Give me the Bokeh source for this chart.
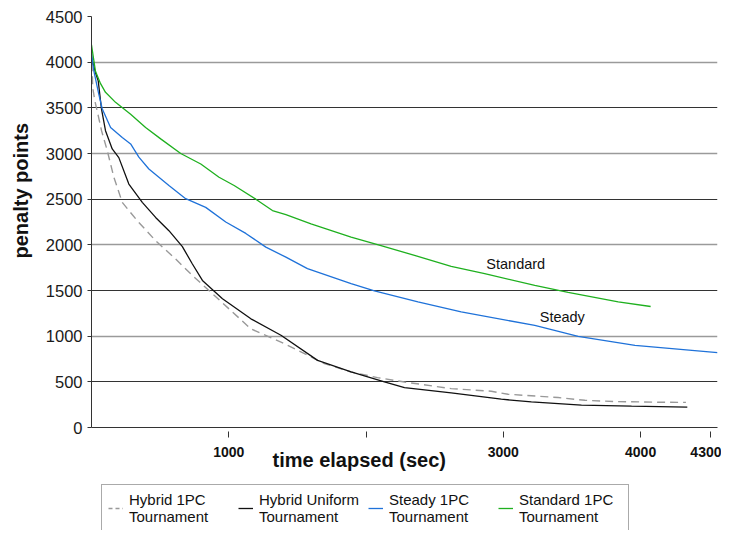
from bokeh.plotting import figure
from bokeh.models import FixedTicker, Grid, Label, Legend, LegendItem, Range1d, Title
from bokeh.layouts import column
from bokeh.embed import file_html
from bokeh.resources import INLINE

FONT = "Liberation Sans"

# ---- data (time elapsed in sec, penalty points) ----
standard_t = [0, 29, 66, 102, 175, 285, 394, 504, 650, 796, 929, 1039, 1197, 1318, 1416,
              1599, 1891, 2109, 2353, 2620, 2864, 3229, 3472, 3837, 4073]
standard_v = [4190, 3900, 3765, 3670, 3560, 3430, 3285, 3160, 3000, 2885, 2740, 2650, 2500,
              2375, 2330, 2230, 2085, 1990, 1885, 1765, 1685, 1555, 1480, 1375, 1325]

steady_t = [0, 17, 53, 78, 139, 224, 285, 345, 418, 564, 686, 832, 978, 1124, 1270, 1416,
            1573, 1891, 2061, 2378, 2693, 3229, 3545, 3959, 4560]
steady_v = [4100, 3905, 3650, 3490, 3285, 3175, 3105, 2960, 2830, 2650, 2505, 2410, 2250,
            2125, 1975, 1865, 1740, 1575, 1495, 1375, 1265, 1118, 998, 900, 820]

uniform_t = [0, 29, 49, 73, 102, 151, 199, 272, 370, 467, 564, 662, 735, 808, 954, 1161,
             1380, 1647, 1891, 2134, 2280, 2620, 2985, 3204, 3569, 3934, 4340]
uniform_v = [4050, 3885, 3795, 3485, 3250, 3050, 2955, 2665, 2465, 2300, 2155, 1980, 1790,
             1610, 1410, 1190, 1010, 735, 610, 500, 437, 378, 310, 280, 245, 233, 222]

onepc_t = [0, 9, 24, 49, 73, 115, 163, 224, 333, 467, 613, 735, 881, 1161, 1404, 1696,
           1891, 2083, 2280, 2620, 2912, 3034, 3399, 3594, 3812, 4177, 4330]
onepc_v = [4130, 3720, 3580, 3415, 3250, 3030, 2740, 2465, 2265, 2045, 1845, 1665, 1465,
           1080, 918, 700, 608, 546, 498, 426, 397, 364, 328, 298, 284, 276, 275]

series_names = ["Hybrid 1PC\nTournament", "Hybrid Uniform\nTournament",
                "Steady 1PC\nTournament", "Standard 1PC\nTournament"]

x_ticks = [1000, 2000, 3000, 4000, 4510]
x_tick_labels = ["1000", "", "3000", "4000", "4300"]
y_ticks = [0, 500, 1000, 1500, 2000, 2500, 3000, 3500, 4000, 4500]

C_GRAY = "#999999"
C_BLACK = "#111111"
C_BLUE = "#1f72d9"
C_GREEN = "#1fb01f"
NAN = float("nan")

p = figure(width=721, height=476, x_range=Range1d(0, 4560), y_range=Range1d(0, 4500),
           output_backend="svg", toolbar_location=None,
           min_border_left=91, min_border_right=4, min_border_top=16, min_border_bottom=49)
p.outline_line_color = None
p.xgrid.visible = False
p.ygrid.visible = False

g_dark = Grid(dimension=1, ticker=FixedTicker(ticks=[t for t in y_ticks if t % 1000 == 500]),
              grid_line_color="#333333", grid_line_width=1)
g_light = Grid(dimension=1, ticker=FixedTicker(ticks=[t for t in y_ticks if t % 1000 == 0 and t > 0]),
               grid_line_color="#9a9a9a", grid_line_width=1.5)
p.add_layout(g_dark)
p.add_layout(g_light)

p.xaxis.ticker = FixedTicker(ticks=x_ticks)
p.xaxis.major_label_overrides = {k: v for k, v in zip(x_ticks, x_tick_labels)}
p.xaxis.minor_tick_line_color = None
p.xaxis.major_tick_in = -4
p.xaxis.major_tick_out = 10
p.xaxis.major_label_standoff = 9
p.xaxis.major_label_text_font = FONT
p.xaxis.major_label_text_font_style = "bold"
p.xaxis.major_label_text_font_size = "14px"
p.xaxis.major_label_text_color = "#111111"
p.xaxis.axis_line_color = "#333333"
p.xaxis.major_tick_line_color = "#333333"

p.yaxis.ticker = FixedTicker(ticks=y_ticks)
p.yaxis.minor_tick_line_color = None
p.yaxis.major_tick_in = 0
p.yaxis.major_tick_out = 4
p.yaxis.major_label_standoff = 5
p.yaxis.major_label_text_font = FONT
p.yaxis.major_label_text_font_size = "16.5px"
p.yaxis.major_label_text_color = "#1a1a1a"
p.yaxis.axis_line_color = "#333333"
p.yaxis.major_tick_line_color = "#333333"

lw = 1.3
r_onepc = p.line(onepc_t, onepc_v, line_color=C_GRAY, line_width=1.4, line_dash="8 5")
r_uniform = p.line(uniform_t, uniform_v, line_color=C_BLACK, line_width=lw)
r_steady = p.line(steady_t, steady_v, line_color=C_BLUE, line_width=lw)
r_standard = p.line(standard_t, standard_v, line_color=C_GREEN, line_width=lw)

p.add_layout(Label(x=2876, y=1792, text="Standard", text_font=FONT, text_font_size="14.5px",
                   text_align="left", text_baseline="middle", text_color="#111111"))
p.add_layout(Label(x=3265, y=1209, text="Steady", text_font=FONT, text_font_size="14.5px",
                   text_align="left", text_baseline="middle", text_color="#111111"))

# axis titles
p.add_layout(Title(text="time elapsed (sec)", align="left", offset=181, vertical_align="top",
                   standoff=-22, text_font=FONT, text_font_size="20px", text_font_style="bold",
                   text_color="#111111"), "below")
p.add_layout(Title(text="penalty points", align="left", offset=169, vertical_align="top",
                   standoff=18, text_font=FONT, text_font_size="20px", text_font_style="bold",
                   text_color="#111111"), "left")

# legend strip
p2 = figure(width=721, height=54, x_range=Range1d(0, 1), y_range=Range1d(0, 1),
            output_backend="svg", toolbar_location=None, min_border=0,
            x_axis_location=None, y_axis_location=None)
p2.outline_line_color = None
p2.grid.visible = False
d1 = p2.line(x=[NAN], y=[NAN], line_color=C_GRAY, line_width=1.4, line_dash="4 3")
d2 = p2.line(x=[NAN], y=[NAN], line_color=C_BLACK, line_width=lw)
d3 = p2.line(x=[NAN], y=[NAN], line_color=C_BLUE, line_width=lw)
d4 = p2.line(x=[NAN], y=[NAN], line_color=C_GREEN, line_width=lw)
legend = Legend(items=[LegendItem(label=n, renderers=[r]) for n, r in zip(series_names, [d1, d2, d3, d4])],
                location=(10, -2), orientation="horizontal",
                glyph_width=15, label_standoff=6, label_width=103, spacing=6, padding=6,
                margin=0, border_line_color="#555555", border_line_width=1,
                label_text_font=FONT, label_text_font_size="15px", label_text_color="#111111",
                label_text_line_height=1.15, background_fill_alpha=1)
p2.add_layout(legend)

layout = column(p, p2)
open("out.html", "w").write(file_html(layout, INLINE))
